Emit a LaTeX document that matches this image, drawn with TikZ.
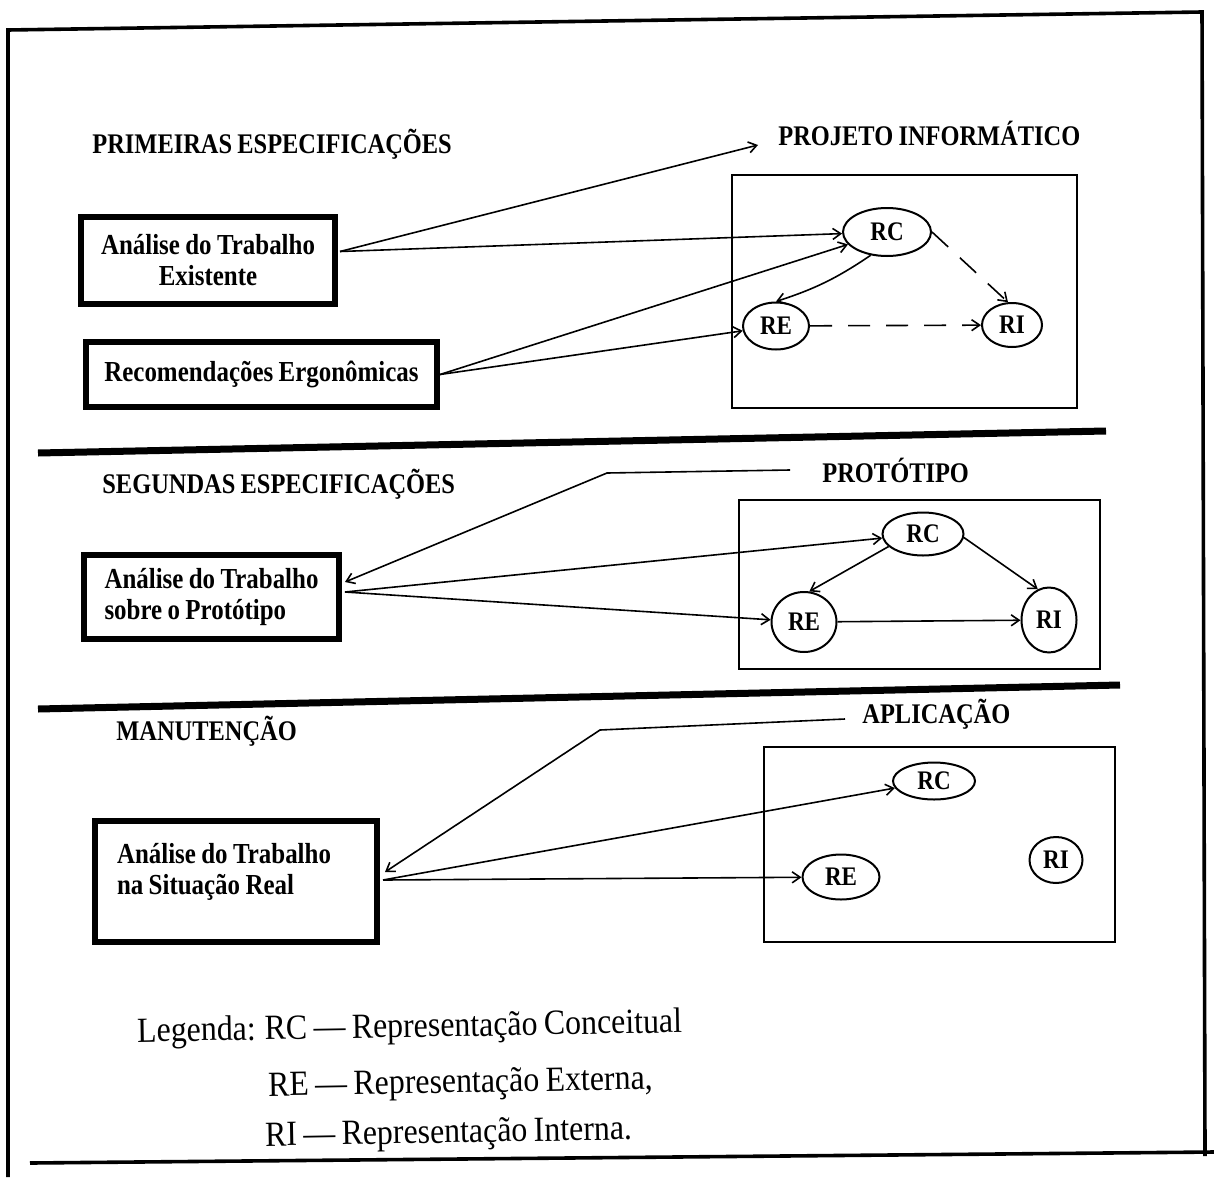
\documentclass[tikz,border=0pt]{standalone}
\usepackage{fontspec}
\setmainfont{Liberation Serif}
\newfontfamily\tallserif[FakeStretch=0.86,WordSpace=0.86]{Liberation Serif}
\newfontfamily\legendserif[FakeStretch=0.9,WordSpace=0.8]{Liberation Serif}
\usetikzlibrary{arrows.meta,calc,shapes.geometric}

\tikzset{
  frame/.style={line width=1.8pt},
  rule/.style={line width=3.5pt},
  panel/.style={draw, line width=1pt},
  boxtext/.style={font=\tallserif\bfseries\fontsize{14.5}{15.5}\selectfont},
  heavybox/.style={draw, line width=3pt, rectangle, inner sep=0pt, boxtext},
  rep/.style={draw, ellipse, line width=1pt, inner sep=0pt,
    font=\tallserif\bfseries\fontsize{13.4}{14}\selectfont},
  heading/.style={anchor=base west, inner sep=0pt,
    font=\tallserif\bfseries\fontsize{14.2}{15}\selectfont},
  legendline/.style={anchor=base west, inner sep=0pt, rotate=1,
    font=\legendserif\fontsize{17.7}{20}\selectfont},
  link/.style={line width=0.8pt, -{Straight Barb[length=4pt,width=5.5pt]}},
  dashedlink/.style={link, dash pattern=on 11pt off 8pt},
}

\begin{document}
\begin{tikzpicture}[x=0.5pt,y=-0.5pt]
\useasboundingbox (0,0) rectangle (1214,1177);
\fill[white] (0,0) rectangle (1214,1177);

% outer frame and section rules
\draw[frame] (8,1177) -- (8,30) -- (1202,12) -- (1205,1156);
\draw[frame] (30,1163) -- (1214,1152);
\draw[rule] (38,453) -- (1106,431);
\draw[rule] (38,709) -- (1120,685);

% ---- first specifications
\node[heading] (h1) at (92,154) {PRIMEIRAS ESPECIFICAÇÕES};
\node[heading] (p1) at (778,146) {PROJETO INFORMÁTICO};
\node[heavybox, minimum width=127pt, minimum height=43.5pt, align=center] (b1) at (208,260.5) {Análise do Trabalho\\Existente};
\node[heavybox, minimum width=175.5pt, minimum height=32.5pt] (b2) at (261.5,374.5) {Recomendações Ergonômicas};
\draw[panel] (732,175) rectangle (1077,408);
\node[rep, minimum width=44pt, minimum height=24pt] (rc1) at (887,232) {RC};
\node[rep, minimum width=33pt, minimum height=23.5pt] (re1) at (776,326) {RE};
\node[rep, minimum width=30pt, minimum height=22pt] (ri1) at (1012,325) {RI};

\draw[link] ($(b1.east)+(2,-9)$) -- ($(p1.base west)+(-20,-1)$);
\draw[link] ($(b1.east)+(2,-9)$) -- (rc1);
\draw[link] (b2.east) -- (rc1);
\draw[link] (b2.east) -- (re1);
\draw[link] (rc1.235) to[bend left=8] (re1.north);
\draw[dashedlink] (rc1.east) -- (ri1.100);
\draw[dashedlink] (re1) -- (ri1);

% ---- second specifications
\node[heading] (h2) at (102,493) {SEGUNDAS ESPECIFICAÇÕES};
\node[heading] (p2) at (822,482) {PROTÓTIPO};
\node[heavybox, minimum width=127.5pt, minimum height=42pt, align=left] (b3) at (211.5,597) {Análise do Trabalho\\sobre o Protótipo};
\draw[panel] (739,500) rectangle (1100,669);
\node[rep, minimum width=40.5pt, minimum height=21.5pt] (rc2) at (923,534) {RC};
\node[rep, minimum width=32.5pt, minimum height=30pt] (re2) at (804,622) {RE};
\node[rep, minimum width=27.5pt, minimum height=32.5pt] (ri2) at (1049,620) {RI};

\coordinate (k2) at (607,473);
\draw[link] ($(p2.base west)+(-32,-12)$) -- (k2) -- ($(b3.east)+(3,-15)$);
\draw[link] ($(b3.east)+(3,-5)$) -- (rc2);
\draw[link] ($(b3.east)+(3,-5)$) -- (re2);
\draw[link] (rc2.200) -- (re2.80);
\draw[link] (rc2.-5) -- (ri2.110);
\draw[link] (re2) -- (ri2);

% ---- maintenance
\node[heading] (h3) at (116,740) {MANUTENÇÃO};
\node[heading] (p3) at (862,723) {APLICAÇÃO};
\node[heavybox, minimum width=141pt, minimum height=60.5pt] (b4) at (236,881.5) {};
\node[boxtext, align=left, inner sep=0pt] (t4) at (224,872) {Análise do Trabalho\\na Situação Real};
\draw[panel] (764,747) rectangle (1115,942);
\node[rep, minimum width=41pt, minimum height=18.5pt] (rc3) at (934,781) {RC};
\node[rep, minimum width=38.5pt, minimum height=22.5pt] (re3) at (841,877) {RE};
\node[rep, minimum width=26.5pt, minimum height=23pt] (ri3) at (1056,860) {RI};

\coordinate (k3) at (600,730);
\draw[link] ($(p3.base west)+(-17,-4)$) -- (k3) -- ($(b4.east)+(5,-9.5)$);
\draw[link] ($(b4.east)+(3,-1.5)$) -- (rc3);
\draw[link] ($(b4.east)+(3,-1.5)$) -- (re3);

% ---- legend
\node[legendline] (l1) at (137,1042) {Legenda: RC — Representação Conceitual};
\node[legendline] (l2) at (268,1096) {RE — Representação Externa,};
\node[legendline] (l3) at (265,1146) {RI — Representação Interna.};
\end{tikzpicture}
\end{document}
